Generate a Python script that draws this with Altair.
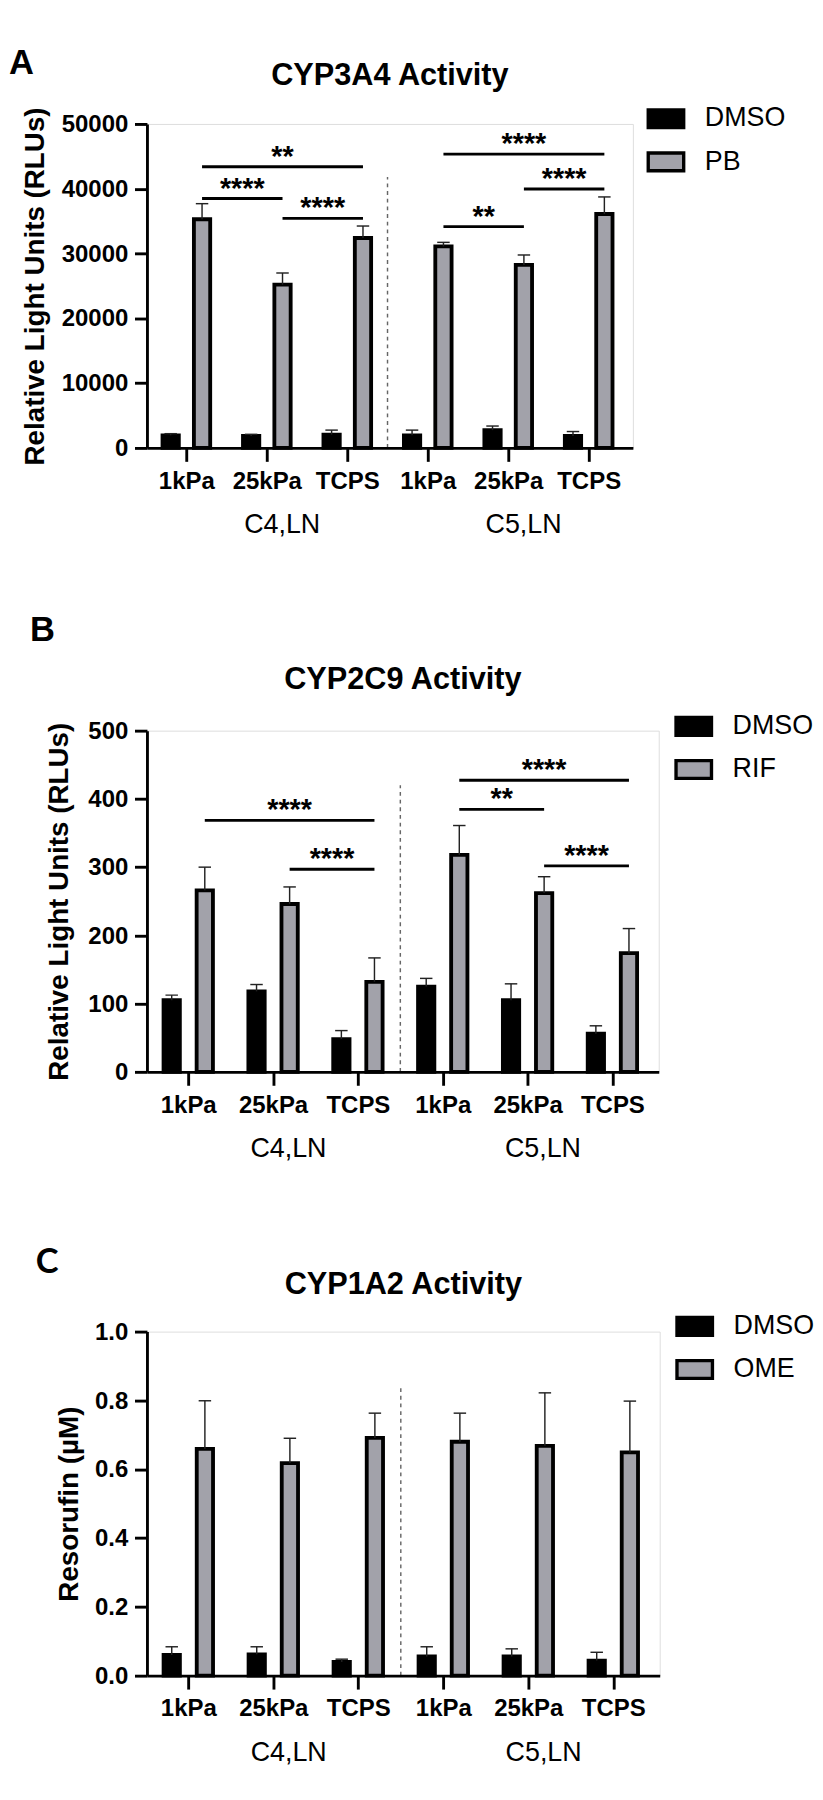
import json
import altair as alt
import pandas as pd

# ---------------- data ----------------
categories = ["1kPa", "25kPa", "TCPS", "1kPa", "25kPa", "TCPS"]
groups = ["C4,LN", "C5,LN"]
group_centers = [1, 4]

# Panel A: CYP3A4
a_dmso = [1950, 1850, 2060, 1950, 2750, 1850]
a_dmso_sd = [250, 250, 690, 800, 630, 680]
a_pb = [35300, 25200, 32400, 31100, 28250, 36100]
a_pb_sd = [2400, 1800, 1850, 630, 1530, 2640]
a_sig_start = [0, 0, 1, 3, 4, 3]
a_sig_end = [2, 1, 2, 5, 5, 4]
a_sig_level = [43400, 38500, 35430, 45350, 39970, 34160]
a_sig_label = ["**", "****", "****", "****", "****", "**"]
a_divider_top = 41800

# Panel B: CYP2C9
b_dmso = [105, 118, 48, 125, 105, 56]
b_dmso_sd = [7.5, 10, 12.5, 12, 24, 11.5]
b_rif = [266, 246, 132, 318, 262, 174]
b_rif_sd = [34, 25, 35, 43, 24, 36]
b_sig_start = [0, 1, 3, 3, 4]
b_sig_end = [2, 2, 5, 4, 5]
b_sig_level = [368.6, 296.9, 427.3, 384.7, 301.9]
b_sig_label = ["****", "****", "****", "**", "****"]
b_divider_top = 420

# Panel C: CYP1A2
c_dmso = [0.060, 0.062, 0.040, 0.056, 0.056, 0.044]
c_dmso_sd = [0.024, 0.022, 0.008, 0.028, 0.022, 0.024]
c_ome = [0.659, 0.618, 0.691, 0.680, 0.668, 0.649]
c_ome_sd = [0.140, 0.072, 0.072, 0.083, 0.154, 0.149]
c_divider_top = 0.84

# ---------------- style ----------------
FONT = "Liberation Sans"
GRAY = "#a2a2aa"
DODGE = 0.195
XDOMAIN = [-0.43, 5.49]
LABEL_EXPR = json.dumps(categories) + "[datum.value]"
RECT = "M-1,-0.5H1V0.5H-1Z"


def panel(letter, title, ytitle, treat, dmso, dmso_sd, trt, trt_sd,
          sig, divider_top, ydomain, yvalues, yformat,
          width, height, box, letter_y, title_y, ytitle_pad,
          legend_x, legend_y, letter_font=FONT):
    # box = (left, top, right, bottom) extents of the panel around its plot area
    bl, bt, br, bb = box
    n = len(categories)
    df = pd.DataFrame({
        "x": [i - DODGE for i in range(n)] + [i + DODGE for i in range(n)],
        "mean": list(dmso) + list(trt),
        "upper": [m + s for m, s in zip(dmso, dmso_sd)] + [m + s for m, s in zip(trt, trt_sd)],
        "series": ["DMSO"] * n + [treat] * n,
    })
    xs = alt.Scale(domain=XDOMAIN, nice=False, zero=False)
    ys = alt.Scale(domain=ydomain, nice=False)
    xaxis = alt.Axis(values=list(range(n)), labelExpr=LABEL_EXPR, title=None,
                     tickSize=14, tickWidth=3, domainWidth=3, labelPadding=8,
                     labelFontSize=25, labelFontWeight="bold", labelFont=FONT,
                     labelFlush=False, labelOverlap=False, grid=False,
                     domainColor="black", tickColor="black", labelColor="black", zindex=1)
    yaxis = alt.Axis(values=yvalues, format=yformat, title=ytitle,
                     tickSize=13, tickWidth=3, domainWidth=3, labelPadding=7,
                     labelFontSize=25, labelFontWeight="bold", labelFont=FONT,
                     titleFontSize=29, titleFontWeight="bold", titleFont=FONT,
                     titlePadding=ytitle_pad, titleColor="black",
                     labelFlush=False, grid=False,
                     domainColor="black", tickColor="black", labelColor="black", zindex=1)

    base = alt.Chart(df)
    bars = base.mark_bar(width=17, stroke="black", strokeWidth=4).encode(
        x=alt.X("x:Q", scale=xs, axis=xaxis),
        y=alt.Y("mean:Q", scale=ys, axis=yaxis),
        color=alt.Color("series:N",
                        scale=alt.Scale(domain=["DMSO", treat], range=["black", GRAY]),
                        legend=alt.Legend(title=None, orient="none",
                                          legendX=legend_x, legendY=legend_y,
                                          symbolType=RECT, symbolSize=1369,
                                          symbolStrokeColor="black", symbolStrokeWidth=3.5,
                                          symbolOpacity=1, padding=0,
                                          labelFontSize=28, labelFont=FONT, labelColor="black",
                                          labelOffset=20, rowPadding=8)),
    )
    stems = base.mark_rule(strokeWidth=1.5, color="#222").encode(
        x="x:Q", y="mean:Q", y2="upper:Q")
    caps = base.mark_tick(orient="horizontal", size=13, thickness=1.5,
                          color="#222", opacity=1).encode(x="x:Q", y="upper:Q")

    div_df = pd.DataFrame({"x": [(n - 1) / 2], "y0": [0], "top": [divider_top]})
    divider = alt.Chart(div_df).mark_rule(strokeDash=[4, 4], strokeWidth=1.5, color="#666").encode(
        x="x:Q", y="y0:Q", y2="top:Q")

    glab_df = pd.DataFrame({"x": group_centers, "label": groups})
    glabels = alt.Chart(glab_df).mark_text(fontSize=28, font=FONT, color="black",
                                           baseline="alphabetic", dx=16).encode(
        x="x:Q", text="label:N", y=alt.value(height + 89))

    let_df = pd.DataFrame({"t": [letter]})
    letmark = alt.Chart(let_df).mark_text(fontSize=36, font=letter_font, fontWeight="bold",
                                          align="left", baseline="top",
                                          color="black").encode(
        text="t:N", x=alt.value(-bl), y=alt.value(letter_y))

    tit_df = pd.DataFrame({"t": [title]})
    titmark = alt.Chart(tit_df).mark_text(fontSize=32, font=FONT, fontWeight="bold",
                                          align="center", baseline="alphabetic",
                                          color="black").encode(
        text="t:N", x=alt.value(width / 2), y=alt.value(title_y))

    # invisible frame fixing the panel's extent in the stacked layout
    frame = alt.Chart(let_df).mark_rule(strokeOpacity=0, strokeWidth=0.1).encode(
        x=alt.value(-bl), x2=alt.value(width + br),
        y=alt.value(-bt), y2=alt.value(height + bb))

    layers = [frame, divider, bars, stems, caps]
    if sig is not None:
        s0, s1, lev, lab = sig
        sig_df = pd.DataFrame({
            "x1": [s + DODGE for s in s0],
            "x2": [e + DODGE for e in s1],
            "y": lev,
            "label": lab,
        })
        sig_df["xm"] = (sig_df["x1"] + sig_df["x2"]) / 2
        srule = alt.Chart(sig_df).mark_rule(strokeWidth=3, color="black").encode(
            x="x1:Q", x2="x2:Q", y="y:Q")
        stext = alt.Chart(sig_df).mark_text(fontSize=30, font=FONT, fontWeight="bold",
                                            baseline="alphabetic", dy=-1, color="black").encode(
            x="xm:Q", y="y:Q", text="label:N")
        layers += [srule, stext]
    layers += [glabels, titmark, letmark]

    return alt.layer(*layers).properties(width=width, height=height)


# page layout (px): A plot 152..659 x 88..426 ; B 130..664 x 719..1075 ; C 124..659 x 1344..1703
pa = panel("A", "CYP3A4 Activity", "Relative Light Units (RLUs)", "PB",
           a_dmso, a_dmso_sd, a_pb, a_pb_sd,
           (a_sig_start, a_sig_end, a_sig_level, a_sig_label), a_divider_top,
           [0, 50000], [0, 10000, 20000, 30000, 40000, 50000], "d",
           507, 338, (144, 80, 156, 134), -80, -41, 12, 521, -26)
pb = panel("B", "CYP2C9 Activity", "Relative Light Units (RLUs)", "RIF",
           b_dmso, b_dmso_sd, b_rif, b_rif_sd,
           (b_sig_start, b_sig_end, b_sig_level, b_sig_label), b_divider_top,
           [0, 500], [0, 100, 200, 300, 400, 500], "d",
           534, 356, (122, 159, 151, 115), -122, -43, 15, 550, -25)
pc = panel("C", "CYP1A2 Activity", "Resorufin (µM)", "OME",
           c_dmso, c_dmso_sd, c_ome, c_ome_sd,
           None, c_divider_top,
           [0, 1.0], [0, 0.2, 0.4, 0.6, 0.8, 1.0], ".1f",
           535, 359, (116, 154, 156, 97), -89, -39, 12, 551, -26, letter_font="Lato")

chart = alt.concat(pa, pb, pc, columns=1, spacing=0, align="none").resolve_scale(
    x="independent", y="independent", color="independent"
).resolve_legend(color="independent").properties(
    padding=0
).configure_view(stroke=None).configure(background="white")

chart.save("out.html", embed_options={"renderer": "svg", "actions": False})
